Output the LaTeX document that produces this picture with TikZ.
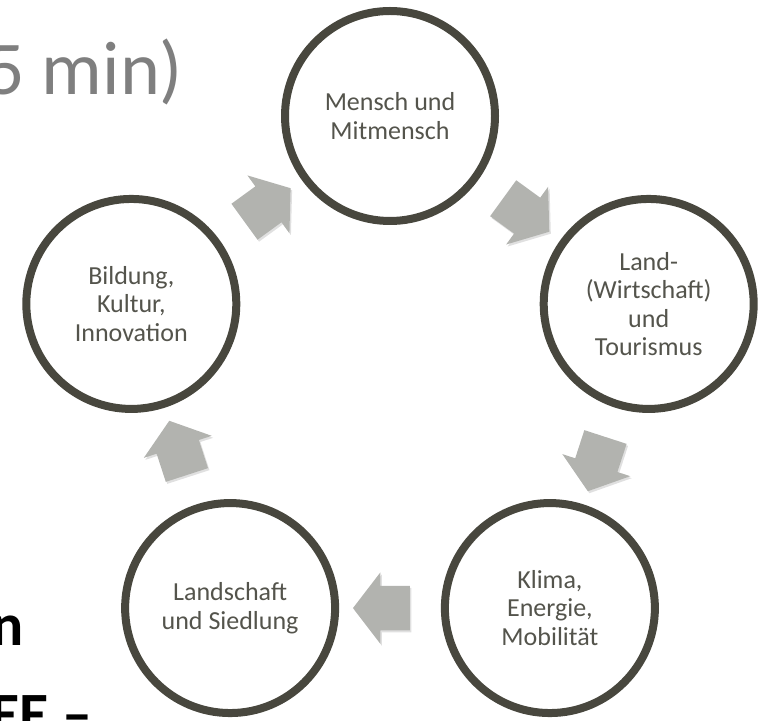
\documentclass[tikz,border=0pt]{standalone}
\usepackage{fontspec}
\setmainfont{Carlito}
\usetikzlibrary{positioning,shapes.arrows,calc,shadows}

\definecolor{ringgray}{RGB}{72,71,62}
\definecolor{arrowgray}{RGB}{178,179,175}
\definecolor{labelgray}{RGB}{84,84,76}
\definecolor{titlegray}{RGB}{127,127,127}

\begin{document}
\begin{tikzpicture}[
	x=1pt, y=1pt,
	topic/.style={draw=ringgray,line width=8pt,circle,fill=white,minimum size=210pt,inner sep=0pt,
		align=center,text=labelgray,font=\fontsize{26}{28.5}\selectfont,
		drop shadow={shadow xshift=2pt,shadow yshift=-3pt,opacity=0.18,fill=black}},
	blockarrow/.style={single arrow,fill=arrowgray,draw=none,minimum height=57pt,minimum width=71pt,
		single arrow head extend=13.5pt,single arrow tip angle=105,inner xsep=0pt,inner ysep=22pt,
		drop shadow={shadow xshift=1.5pt,shadow yshift=-2pt,opacity=0.12,fill=black}},
	slidetext/.style={inner sep=0pt,font=\fontsize{60}{72}\selectfont\bfseries}
	]
	\useasboundingbox (0,0) rectangle (762,720);
	\clip (0,0) rectangle (762,720);
	% remains of the slide behind the cycle
	\node[inner sep=0pt,anchor=base west,text=titlegray,font=\fontsize{76}{90}\selectfont] (duration) at (-14,625) {5 min)};
	\node[slidetext,anchor=base east] (wordend) at (24,75) {n};
	\node[slidetext,anchor=base west] (dash) at (-10,-14) {EE –};
	% the five topics
	\coordinate (hub) at (390,332);
	\node[topic] (mensch) at ($(hub)+(90:272)$) {Mensch und\\Mitmensch};
	\node[topic] (land) at ($(hub)+(18:272)$) {Land-\\(Wirtschaft)\\und\\Tourismus};
	\node[topic] (klima) at ($(hub)+(-54:272)$) {Klima,\\Energie,\\Mobilität};
	\node[topic] (siedlung) at ($(hub)+(-126:272)$) {Landschaft\\und Siedlung};
	\node[topic] (bildung) at ($(hub)+(162:272)$) {Bildung,\\Kultur,\\Innovation};
	% arrows between them
	\node[blockarrow,rotate=-36] (step1) at ($(mensch)!0.5!(land)$) {};
	\node[blockarrow,rotate=-108] (step2) at ($(land)!0.5!(klima)$) {};
	\node[blockarrow,rotate=180] (step3) at ($(klima)!0.5!(siedlung)$) {};
	\node[blockarrow,rotate=108] (step4) at ($(siedlung)!0.5!(bildung)$) {};
	\node[blockarrow,rotate=36] (step5) at ($(bildung)!0.5!(mensch)$) {};
\end{tikzpicture}
\end{document}
